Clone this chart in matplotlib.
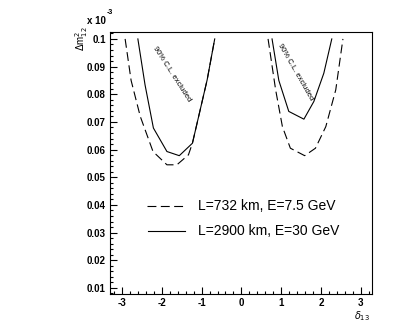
import matplotlib
matplotlib.use("Agg")
import matplotlib.pyplot as plt
from matplotlib.ticker import MultipleLocator, FormatStrFormatter

plt.rcParams['font.family'] = ['Liberation Sans', 'DejaVu Sans']

# contour data (delta_13, dm2_12 in units of 1e-3 eV^2)
# L=732 km, E=7.5 GeV  (dashed)
d732_left_x = [-2.92, -2.77, -2.54, -2.22, -1.87, -1.62, -1.33, -1.23, -0.86, -0.67]
d732_left_y = [0.100, 0.085, 0.072, 0.0593, 0.0545, 0.0545, 0.0581, 0.0623, 0.0852, 0.100]
d732_right_x = [0.67, 0.86, 1.03, 1.23, 1.59, 1.86, 2.12, 2.37, 2.55]
d732_right_y = [0.100, 0.0816, 0.0683, 0.0605, 0.0578, 0.0605, 0.0683, 0.0816, 0.100]
# L=2900 km, E=30 GeV  (solid)
d2900_left_x = [-2.60, -2.42, -2.21, -1.87, -1.56, -1.23, -0.86, -0.67]
d2900_left_y = [0.100, 0.0834, 0.0678, 0.0593, 0.0578, 0.0623, 0.0852, 0.100]
d2900_right_x = [0.77, 0.94, 1.19, 1.57, 1.82, 2.07, 2.27]
d2900_right_y = [0.100, 0.085, 0.0738, 0.0710, 0.0774, 0.0876, 0.100]

fig = plt.figure(figsize=(4.05, 3.27), dpi=100)
ax = fig.add_axes([0.2716, 0.1009, 0.6469, 0.8012])

ax.plot(d732_left_x, d732_left_y, color='black', lw=0.8, ls=(0, (8, 4)))
ax.plot(d732_right_x, d732_right_y, color='black', lw=0.8, ls=(0, (8, 4)))
ax.plot(d2900_left_x, d2900_left_y, color='black', lw=0.8)
ax.plot(d2900_right_x, d2900_right_y, color='black', lw=0.8)

ax.text(-1.74, 0.0874, '90% C.L. excluded', fontsize=5.5, rotation=-57,
        ha='center', va='center', rotation_mode='anchor')
ax.text(1.36, 0.0881, '90% C.L. excluded', fontsize=5.5, rotation=-60,
        ha='center', va='center', rotation_mode='anchor')

# legend drawn by hand, ROOT style
ax.plot([-2.38, -1.41], [0.0396, 0.0396], color='black', lw=0.8, ls=(0, (8, 4)))
ax.plot([-2.35, -1.41], [0.0305, 0.0305], color='black', lw=0.8)
ax.text(-1.10, 0.0396, 'L=732 km, E=7.5 GeV', fontsize=10, va='center')
ax.text(-1.10, 0.0305, 'L=2900 km, E=30 GeV', fontsize=10, va='center')

ax.set_xlim(-3.3, 3.28)
ax.set_ylim(0.0078, 0.1025)
ax.xaxis.set_major_locator(MultipleLocator(1))
ax.xaxis.set_minor_locator(MultipleLocator(0.2))
ax.yaxis.set_major_locator(MultipleLocator(0.01))
ax.yaxis.set_minor_locator(MultipleLocator(0.002))
ax.xaxis.set_major_formatter(FormatStrFormatter('%g'))
ax.yaxis.set_major_formatter(FormatStrFormatter('%g'))
ax.tick_params(which='both', direction='in', top=False, right=False,
               labelsize=7, width=0.8)
ax.tick_params(which='major', length=5, pad=3)
ax.tick_params(which='minor', length=2.5)
for lab in ax.get_xticklabels() + ax.get_yticklabels():
    lab.set_fontweight('bold')
for s in ax.spines.values():
    s.set_linewidth(0.8)

fig.text(87 / 405, 1 - 21 / 327, 'x 10', fontsize=7, fontweight='bold', va='center')
fig.text(107 / 405, 1 - 13 / 327, '-3', fontsize=5, fontweight='bold', va='center')
fig.text(82 / 405, 1 - 26 / 327, r'$\Delta$m$^{2}_{12}$', fontsize=7, rotation=90,
         ha='center', va='top')
fig.text(362 / 405, 1 - 316 / 327, r'$\delta_{13}$', fontsize=7, ha='center', va='center')

fig.savefig('out.png', dpi=100)
